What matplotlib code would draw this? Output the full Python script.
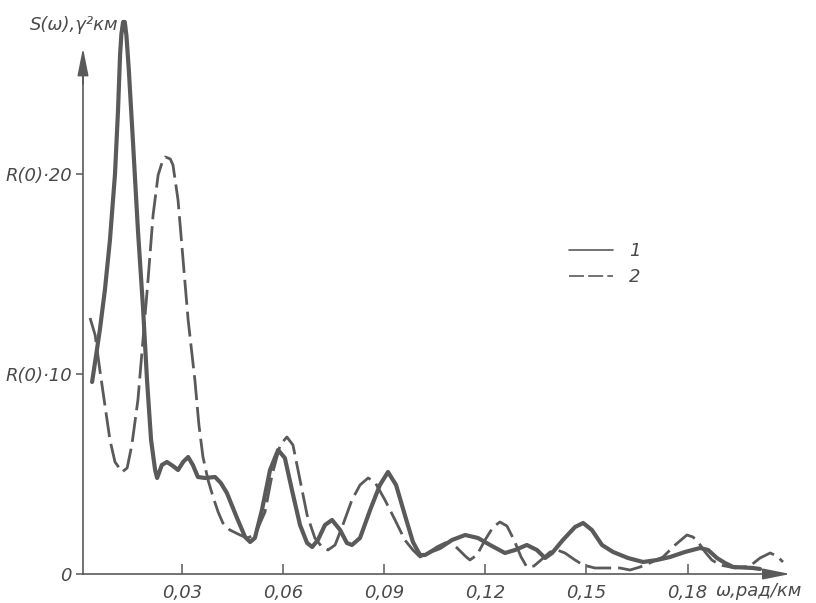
import matplotlib
matplotlib.use('Agg')
import matplotlib.pyplot as plt

# curve 1 (solid): omega, rad/km and S(omega)
w1 = [0.0033, 0.0045, 0.0056, 0.0071, 0.0086, 0.0101, 0.0110, 0.0116, 0.0120, 0.0125,
      0.0130, 0.0135, 0.0142, 0.0154, 0.0169, 0.0184, 0.0196, 0.0208, 0.0220, 0.0226,
      0.0240, 0.0255, 0.0273, 0.0288, 0.0303, 0.0318, 0.0332, 0.0347, 0.0368, 0.0398,
      0.0415, 0.0433, 0.0463, 0.0487, 0.0502, 0.0516, 0.0537, 0.0561, 0.0585, 0.0605,
      0.0626, 0.0650, 0.0671, 0.0686, 0.0703, 0.0724, 0.0745, 0.0769, 0.0789, 0.0804,
      0.0828, 0.0858, 0.0887, 0.0911, 0.0935, 0.0961, 0.0985, 0.1006, 0.1021, 0.1042,
      0.1065, 0.1101, 0.1140, 0.1178, 0.1214, 0.1258, 0.1288, 0.1323, 0.1353, 0.1377,
      0.1398, 0.1430, 0.1466, 0.1490, 0.1516, 0.1546, 0.1579, 0.1623, 0.1668, 0.1709,
      0.1748, 0.1792, 0.1837, 0.1861, 0.1887, 0.1911, 0.1935, 0.1994, 0.2015]
s1 = [9.6, 10.95, 12.2, 14.2, 16.7, 20.0, 23.2, 25.95, 27.0, 27.6,
      27.6, 26.9, 25.2, 21.7, 17.2, 13.35, 9.7, 6.7, 5.2, 4.8,
      5.45, 5.6, 5.4, 5.2, 5.6, 5.85, 5.45, 4.85, 4.8, 4.85,
      4.55, 4.05, 2.8, 1.85, 1.6, 1.8, 3.2, 5.2, 6.2, 5.8,
      4.2, 2.45, 1.55, 1.35, 1.7, 2.45, 2.7, 2.2, 1.55, 1.45,
      1.8, 3.2, 4.45, 5.1, 4.45, 2.95, 1.6, 0.95, 0.95, 1.15,
      1.3, 1.7, 1.95, 1.8, 1.45, 1.05, 1.2, 1.45, 1.2, 0.8,
      1.05, 1.7, 2.35, 2.55, 2.2, 1.45, 1.1, 0.8, 0.6, 0.7,
      0.85, 1.1, 1.3, 1.2, 0.8, 0.55, 0.35, 0.3, 0.25]

# curve 2 (dashed)
w2 = [0.0027, 0.0042, 0.0056, 0.0071, 0.0086, 0.0101, 0.0122, 0.0137, 0.0151, 0.0169,
      0.0184, 0.0199, 0.0214, 0.0229, 0.0243, 0.0250, 0.0258, 0.0265, 0.0273, 0.0288,
      0.0303, 0.0318, 0.0338, 0.0350, 0.0362, 0.0377, 0.0392, 0.0407, 0.0421, 0.0442,
      0.0472, 0.0493, 0.0516, 0.0546, 0.0567, 0.0591, 0.0611, 0.0629, 0.0650, 0.0671,
      0.0694, 0.0715, 0.0733, 0.0754, 0.0777, 0.0804, 0.0828, 0.0852, 0.0872, 0.0902,
      0.0932, 0.0961, 0.0985, 0.1006, 0.1030, 0.1056, 0.1080, 0.1095, 0.1116, 0.1140,
      0.1154, 0.1175, 0.1199, 0.1223, 0.1243, 0.1264, 0.1285, 0.1306, 0.1323, 0.1344,
      0.1365, 0.1392, 0.1413, 0.1436, 0.1466, 0.1490, 0.1525, 0.1570, 0.1599, 0.1629,
      0.1659, 0.1688, 0.1727, 0.1763, 0.1798, 0.1816, 0.1831, 0.1852, 0.1872, 0.1896,
      0.1941, 0.1985, 0.2015, 0.2045, 0.2065, 0.2083]
s2 = [12.8, 11.95, 10.2, 8.45, 6.7, 5.6, 5.1, 5.3, 6.45, 8.7,
      11.7, 14.7, 17.95, 19.95, 20.7, 20.85, 20.8, 20.75, 20.45, 18.7,
      15.7, 12.7, 9.7, 7.45, 5.85, 4.7, 3.85, 3.1, 2.55, 2.2,
      1.95, 1.8, 1.95, 3.1, 4.95, 6.45, 6.85, 6.45, 4.7, 2.95,
      1.8, 1.35, 1.2, 1.45, 2.45, 3.7, 4.45, 4.8, 4.6, 3.7,
      2.7, 1.7, 1.2, 0.85, 1.05, 1.35, 1.55, 1.6, 1.3, 0.9,
      0.7, 0.95, 1.7, 2.35, 2.6, 2.4, 1.7, 0.85, 0.35, 0.4,
      0.7, 1.1, 1.2, 1.05, 0.7, 0.45, 0.3, 0.3, 0.3, 0.2,
      0.35, 0.55, 0.85, 1.45, 1.95, 1.85, 1.6, 1.1, 0.7, 0.45,
      0.3, 0.4, 0.8, 1.05, 0.9, 0.6]

xticks = [0.03, 0.06, 0.09, 0.12, 0.15, 0.18]
xticklabels = ['0,03', '0,06', '0,09', '0,12', '0,15', '0,18']
yticks = [0, 10, 20]
yticklabels = ['0', 'R(0)·10', 'R(0)·20']

ink = '#5a5a5a'
txt = '#4a4a4a'
plt.rcParams['font.family'] = ['DejaVu Sans']

fig = plt.figure(figsize=(8.16, 6.03), dpi=100)
ax = fig.add_axes([0.1017, 0.0481, 0.8855, 0.9453])

l1, = ax.plot(w1, s1, color=ink, lw=3.0, solid_joinstyle='round',
              solid_capstyle='round', label='1')
l2, = ax.plot(w2, s2, color=ink, lw=2.0, dashes=(9, 2.5), label='2')

ax.set_xlim(0.0006, 0.215)
ax.set_ylim(0, 28.5)

for side in ['top', 'right']:
    ax.spines[side].set_visible(False)
ax.spines['left'].set_bounds(0, 26.0)
ax.spines['bottom'].set_bounds(0.0006, 0.209)
for side in ['left', 'bottom']:
    ax.spines[side].set_color(ink)
    ax.spines[side].set_linewidth(1.2)

# arrows at the axis ends
arr = dict(arrowstyle='-|>,head_length=1.4,head_width=0.28', color=ink, lw=1.2,
           shrinkA=0, shrinkB=0, mutation_scale=12)
ax.annotate('', xy=(0.0006, 26.3), xytext=(0.0006, 24.5), arrowprops=arr,
            annotation_clip=False)
ax.annotate('', xy=(0.2105, 0), xytext=(0.203, 0), arrowprops=arr,
            annotation_clip=False)

ax.set_xticks(xticks)
ax.set_xticklabels(xticklabels)
ax.set_yticks(yticks)
ax.set_yticklabels(yticklabels)
ax.tick_params(axis='x', direction='in', length=7, width=1.1, color=ink,
               pad=7, labelsize=13, labelcolor=txt)
ax.tick_params(axis='y', direction='out', length=5, width=1.1, color=ink,
               pad=3, labelsize=13, labelcolor=txt)
for lab in ax.get_xticklabels() + ax.get_yticklabels():
    lab.set_fontstyle('italic')

fig.text(30 / 816, 1 - 25 / 603, 'S(ω),γ²км', fontsize=13, style='italic',
         color=txt, va='center', ha='left')
fig.text(716 / 816, 1 - 591 / 603, 'ω,рад/км', fontsize=13, style='italic',
         color=txt, va='center', ha='left')

leg = ax.legend(handles=[l1, l2], loc='upper left', frameon=False,
                bbox_to_anchor=(553 / 816, 1 - 226 / 603),
                bbox_transform=fig.transFigure, fontsize=13, handlelength=2.4,
                handletextpad=0.9, labelspacing=0.45)
for ln in leg.get_lines():
    ln.set_linewidth(1.2)
for t in leg.get_texts():
    t.set_fontstyle('italic')
    t.set_color(txt)

fig.savefig('out.png', dpi=100, facecolor='white')
